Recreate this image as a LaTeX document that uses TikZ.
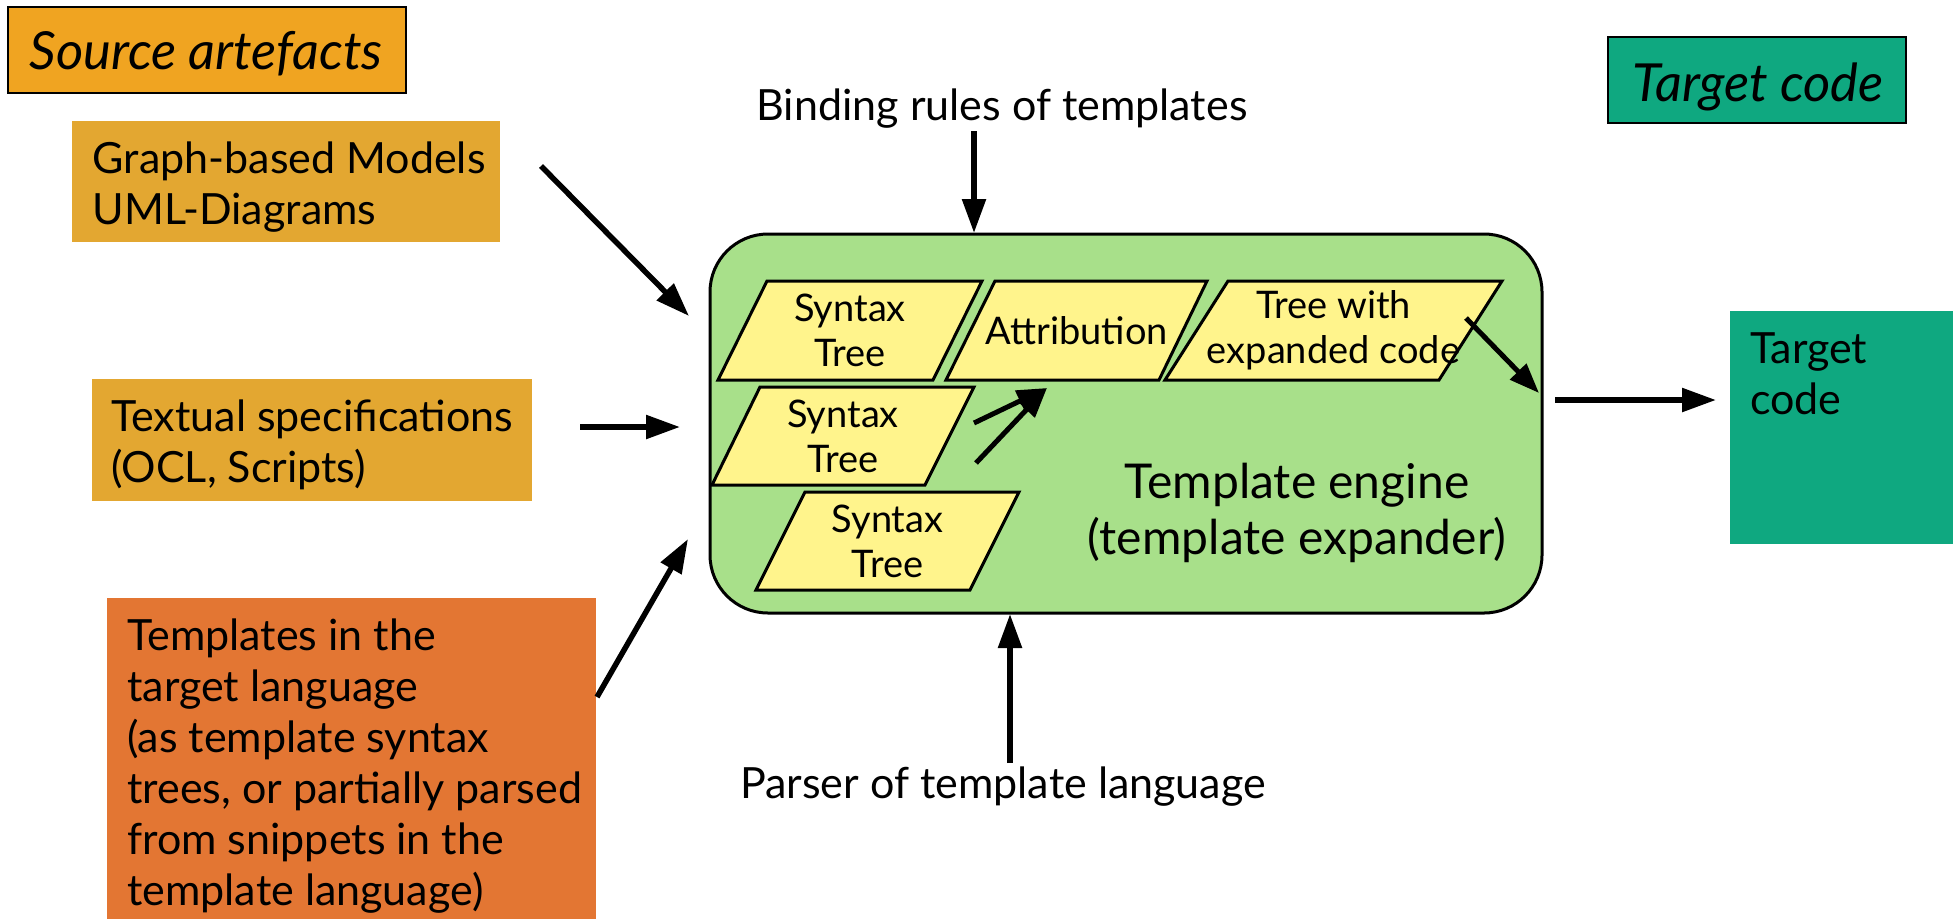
\documentclass[tikz,border=0pt]{standalone}
\usepackage{fontspec}
\setmainfont{Lato}
\usetikzlibrary{arrows.meta}

\definecolor{srcorange}{HTML}{F0A421}
\definecolor{srcbox}{HTML}{E3A731}
\definecolor{tplbox}{HTML}{E37633}
\definecolor{tgtgreen}{HTML}{0FA880}
\definecolor{enginegreen}{HTML}{A8E08A}
\definecolor{treeyellow}{HTML}{FFF48C}

\begin{document}
\begin{tikzpicture}[x=1pt,y=-1pt,
  box/.style={rectangle, inner sep=0pt, outer sep=0pt, anchor=north west},
  titlebox/.style={box, draw=black, line width=2.5pt},
  bodytext/.style={font=\fontsize{43}{51}\selectfont, inner sep=0pt, align=left, anchor=north west},
  linetext/.style={font=\fontsize{43}{51}\selectfont, inner sep=0pt, anchor=base},
  titletext/.style={font=\fontsize{52.5}{60}\selectfont\itshape, inner sep=0pt, anchor=base},
  treebox/.style={draw=black, fill=treeyellow, line width=3pt, line join=miter},
  treetext/.style={font=\fontsize{38}{45}\selectfont, inner sep=0pt, align=center},
  arr/.style={line width=5.5pt, -{Triangle[length=34pt,width=23pt]}},
  thinarr/.style={line width=5pt, -{Triangle[length=30pt,width=22pt]}},
]
\useasboundingbox (0,0) rectangle (1953,919);

% ---- headings ----
\node[titlebox, fill=srcorange, minimum width=398pt, minimum height=86pt] (srctitle) at (8,7) {};
\node[titletext] (srctitletxt) at (206,69) {Source artefacts};
\node[titlebox, fill=tgtgreen, minimum width=298pt, minimum height=86pt] (tgttitle) at (1608,37) {};
\node[titletext] (tgttitletxt) at (1758,101) {Target code};

% ---- source artefacts ----
\node[box, fill=srcbox, minimum width=428pt, minimum height=121pt] (graph) at (72,121) {};
\node[bodytext] (graphtxt) at (92.5,142) {Graph-based Models\\UML-Diagrams};

\node[box, fill=srcbox, minimum width=440pt, minimum height=122pt] (textual) at (92,379) {};
\node[bodytext] (textualtxt) at (111,400) {Textual specifications\\(OCL, Scripts)};

\node[box, fill=tplbox, minimum width=489pt, minimum height=321pt] (templates) at (107,598) {};
\node[bodytext] (templatestxt) at (127,619) {Templates in the\\target language\\(as template syntax\\trees, or partially parsed\\from snippets in the\\template language)};

% ---- target code ----
\node[box, fill=tgtgreen, minimum width=223pt, minimum height=233pt] (target) at (1730,311) {};
\node[bodytext] (targettxt) at (1750,332) {Target\\code};

% ---- template engine ----
\draw[fill=enginegreen, line width=3pt, rounded corners=58pt] (710,234) rectangle (1542,613);
\node[font=\fontsize{48}{56}\selectfont, inner sep=0pt, align=center] (engine) at (1297,513) {Template engine\\(template expander)};

\draw[treebox] (767,281) -- (982,281) -- (933,380) -- (718,380) -- cycle;
\node[treetext] (st1) at (850,330.5) {Syntax\\Tree};
\draw[treebox] (995,281) -- (1207,281) -- (1159,380) -- (946,380) -- cycle;
\node[treetext] (attr) at (1077,330.5) {Attribution};
\draw[treebox] (1228,281) -- (1502,281) -- (1439,380) -- (1165,380) -- cycle;
\node[treetext] (expanded) at (1333.5,330.5) {Tree with\\expanded code};
\draw[treebox] (760,387) -- (974,387) -- (925,485) -- (712,485) -- cycle;
\node[treetext] (st2) at (843,436) {Syntax\\Tree};
\draw[treebox] (805,492) -- (1019,492) -- (970,590) -- (756,590) -- cycle;
\node[treetext] (st3) at (887.5,541) {Syntax\\Tree};

% ---- labels above and below the engine ----
\node[linetext] (binding) at (1002,120) {Binding rules of templates};
\node[linetext] (parser) at (1003,798) {Parser of template language};

% ---- connector end points ----
\coordinate (graphout) at (541,166);
\coordinate (graphin) at (689,316);
\coordinate (textout) at (580,427);
\coordinate (textin) at (680,427);
\coordinate (tplout) at (597,697);
\coordinate (tplin) at (688,539);
\coordinate (bindout) at (974,131);
\coordinate (bindin) at (974,233);
\coordinate (parseout) at (1010,763);
\coordinate (parsein) at (1010,614);
\coordinate (engineout) at (1555,400);
\coordinate (targetin) at (1716,400);
\coordinate (expout) at (1466,318);
\coordinate (expin) at (1539,393);
\coordinate (stout1) at (974,423);
\coordinate (stout2) at (976,463);
\coordinate (attrin) at (1047,388);

% ---- connectors ----
\draw[arr] (graphout) -- (graphin);
\draw[arr] (textout) -- (textin);
\draw[arr] (tplout) -- (tplin);
\draw[arr] (bindout) -- (bindin);
\draw[arr] (parseout) -- (parsein);
\draw[arr] (engineout) -- (targetin);
\draw[thinarr] (expout) -- (expin);
\draw[thinarr] (stout1) -- (attrin);
\draw[thinarr] (stout2) -- (attrin);
\end{tikzpicture}
\end{document}
